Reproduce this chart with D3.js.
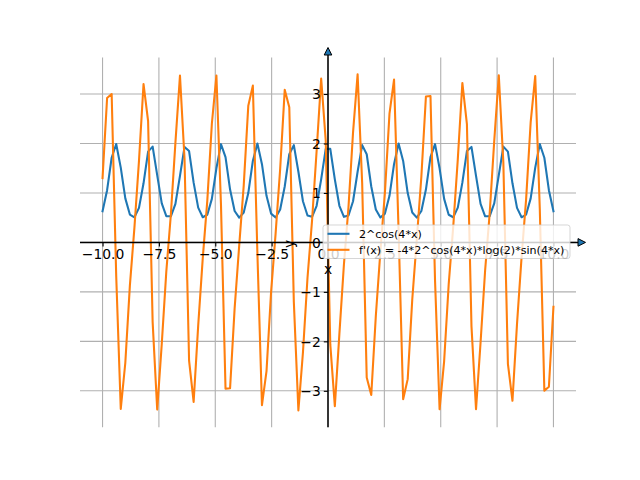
<!DOCTYPE html>
<html>
<head>
<meta charset="utf-8">
<script src="https://cdn.jsdelivr.net/npm/d3@7"></script>
<style>
  html, body { margin: 0; padding: 0; background: #fff; }
  svg { display: block; }
  text { font-family: "DejaVu Sans", sans-serif; }
</style>
</head>
<body>
<svg id="chart" width="640" height="480"></svg>
<script>
const xValues = [
  -10, -9.7980, -9.5960, -9.3939, -9.1919, -8.9899, -8.7879, -8.5859, -8.3838, -8.1818,
  -7.9798, -7.7778, -7.5758, -7.3737, -7.1717, -6.9697, -6.7677, -6.5657, -6.3636, -6.1616,
  -5.9596, -5.7576, -5.5556, -5.3535, -5.1515, -4.9495, -4.7475, -4.5455, -4.3434, -4.1414,
  -3.9394, -3.7374, -3.5354, -3.3333, -3.1313, -2.9293, -2.7273, -2.5253, -2.3232, -2.1212,
  -1.9192, -1.7172, -1.5152, -1.3131, -1.1111, -0.9091, -0.7071, -0.5051, -0.3030, -0.1010,
  0.1010, 0.3030, 0.5051, 0.7071, 0.9091, 1.1111, 1.3131, 1.5152, 1.7172, 1.9192,
  2.1212, 2.3232, 2.5253, 2.7273, 2.9293, 3.1313, 3.3333, 3.5354, 3.7374, 3.9394,
  4.1414, 4.3434, 4.5455, 4.7475, 4.9495, 5.1515, 5.3535, 5.5556, 5.7576, 5.9596,
  6.1616, 6.3636, 6.5657, 6.7677, 6.9697, 7.1717, 7.3737, 7.5758, 7.7778, 7.9798,
  8.1818, 8.3838, 8.5859, 8.7879, 8.9899, 9.1919, 9.3939, 9.5960, 9.7980, 10
];
const seriesF = [
  0.630, 1.055, 1.711, 1.989, 1.512, 0.890, 0.563, 0.508, 0.697, 1.195,
  1.835, 1.937, 1.359, 0.788, 0.530, 0.527, 0.780, 1.344, 1.930, 1.846,
  1.208, 0.704, 0.509, 0.559, 0.880, 1.498, 1.986, 1.723, 1.068, 0.635,
  0.500, 0.605, 0.997, 1.647, 1.999, 1.581, 0.942, 0.582, 0.503, 0.664,
  1.130, 1.782, 1.966, 1.428, 0.832, 0.543, 0.517, 0.740, 1.275, 1.891,
  1.891, 1.275, 0.740, 0.517, 0.543, 0.832, 1.428, 1.966, 1.782, 1.130,
  0.664, 0.503, 0.582, 0.942, 1.581, 1.999, 1.647, 0.997, 0.605, 0.500,
  0.635, 1.068, 1.723, 1.986, 1.498, 0.880, 0.559, 0.509, 0.704, 1.208,
  1.846, 1.930, 1.344, 0.780, 0.527, 0.530, 0.788, 1.359, 1.937, 1.835,
  1.195, 0.697, 0.508, 0.563, 0.890, 1.512, 1.989, 1.711, 1.055, 0.630
];
const seriesD = [
  1.301, 2.918, 3.000, -0.679, -3.365, -2.433, -0.874, 0.299, 1.648, 3.201,
  2.454, -1.612, -3.379, -2.053, -0.589, 0.564, 2.018, 3.371, 1.692, -2.391,
  -3.223, -1.682, -0.323, 0.846, 2.398, 3.374, 0.770, -2.959, -2.948, -1.333,
  -0.069, 1.153, 2.764, 3.169, -0.228, -3.290, -2.602, -1.011, 0.183, 1.488,
  3.084, 2.730, -1.203, -3.396, -2.225, -0.715, 0.442, 1.848, 3.311, 2.062,
  -2.062, -3.311, -1.848, -0.442, 0.715, 2.225, 3.396, 1.203, -2.730, -3.084,
  -1.488, -0.183, 1.011, 2.602, 3.290, 0.228, -3.169, -2.764, -1.153, 0.069,
  1.333, 2.948, 2.959, -0.770, -3.374, -2.398, -0.846, 0.323, 1.682, 3.223,
  2.391, -1.692, -3.371, -2.018, -0.564, 0.589, 2.053, 3.379, 1.612, -2.454,
  -3.201, -1.648, -0.299, 0.874, 2.433, 3.365, 0.679, -3.000, -2.918, -1.301
];
const seriesNames = ["2^cos(4*x)", "f'(x) = -4*2^cos(4*x)*log(2)*sin(4*x)"];
const seriesColors = ["#1f77b4", "#ff7f0e"];
const xTicks = [-10, -7.5, -5, -2.5, 0, 2.5, 5, 7.5, 10];
const xTickLabels = ["−10.0", "−7.5", "−5.0", "−2.5", "0.0", "2.5", "5.0", "7.5", "10.0"];
const yTicks = [-3, -2, -1, 0, 1, 2, 3];
const yTickLabels = ["−3", "−2", "−1", "0", "1", "2", "3"];

const svg = d3.select("#chart");
const L = 80, R = 576, T = 57.6, B = 427.2;

const xExt = d3.extent(xValues);
const xPad = (xExt[1] - xExt[0]) * 0.05;
const x = d3.scaleLinear().domain([xExt[0] - xPad, xExt[1] + xPad]).range([L, R]);
const yExt = d3.extent(seriesF.concat(seriesD));
const yPad = (yExt[1] - yExt[0]) * 0.05;
const y = d3.scaleLinear().domain([yExt[0] - yPad, yExt[1] + yPad]).range([B, T]);

// grid
const grid = svg.append("g");
grid.selectAll("line.vx").data(xTicks).enter().append("line")
  .attr("x1", d => x(d)).attr("x2", d => x(d)).attr("y1", T).attr("y2", B)
  .attr("stroke", "#b0b0b0").attr("stroke-width", 1.1);
grid.selectAll("line.hy").data(yTicks).enter().append("line")
  .attr("x1", L).attr("x2", R).attr("y1", d => y(d)).attr("y2", d => y(d))
  .attr("stroke", "#b0b0b0").attr("stroke-width", 1.1);

// lines
const series = [seriesF, seriesD];
series.forEach((s, k) => {
  const line = d3.line().x((d, i) => x(xValues[i])).y(d => y(d));
  svg.append("path").datum(s).attr("d", line)
    .attr("fill", "none").attr("stroke", seriesColors[k])
    .attr("stroke-width", 2.08).attr("stroke-linejoin", "round").attr("stroke-linecap", "square");
});

// axes
const x0 = x(0), y0 = y(0);
const xAxis = d3.axisBottom(x).tickValues(xTicks).tickSize(4.2).tickPadding(3.5)
  .tickFormat((d, i) => xTickLabels[i]);
const gx = svg.append("g").attr("transform", `translate(0,${y0})`).call(xAxis);
gx.select(".domain").remove();
gx.selectAll(".tick line").attr("stroke", "#000").attr("stroke-width", 1.1);
gx.selectAll(".tick text").attr("font-size", 13.9).attr("font-family", "DejaVu Sans")
  .attr("fill", "#000").attr("dy", null).attr("y", 16.2);

const yAxis = d3.axisLeft(y).tickValues(yTicks).tickSize(4.2).tickPadding(3.5)
  .tickFormat((d, i) => yTickLabels[i]);
const gy = svg.append("g").attr("transform", `translate(${x0},0)`).call(yAxis);
gy.select(".domain").remove();
gy.selectAll(".tick line").attr("stroke", "#000").attr("stroke-width", 1.1);
gy.selectAll(".tick text").attr("font-size", 13.9).attr("font-family", "DejaVu Sans")
  .attr("fill", "#000").attr("dy", null).attr("y", 4.8).attr("x", -7.2);

// spines
svg.append("line").attr("x1", L).attr("x2", 579).attr("y1", y0).attr("y2", y0)
  .attr("stroke", "#000").attr("stroke-width", 1.5);
svg.append("line").attr("x1", x0).attr("x2", x0).attr("y1", B).attr("y2", 54)
  .attr("stroke", "#000").attr("stroke-width", 1.5);
// arrow heads
svg.append("path")
  .attr("d", `M${x0},47.5 L${x0 - 3.8},55 L${x0 + 3.8},55 Z`)
  .attr("fill", "#1f77b4").attr("stroke", "#000").attr("stroke-width", 1);
svg.append("path")
  .attr("d", `M585.5,${y0} L578,${y0 - 3.8} L578,${y0 + 3.8} Z`)
  .attr("fill", "#1f77b4").attr("stroke", "#000").attr("stroke-width", 1);

// axis labels
svg.append("text").attr("x", x0).attr("y", 273.5).attr("text-anchor", "middle")
  .attr("font-size", 13.9).text("x");
svg.append("text").attr("transform", `translate(293.5,244) rotate(-90)`)
  .attr("text-anchor", "middle").attr("font-size", 13.9).text("y");

// legend
const lg = svg.append("g");
lg.append("rect").attr("x", 323).attr("y", 225).attr("width", 247).attr("height", 33.5)
  .attr("rx", 2.5).attr("fill", "#fff").attr("fill-opacity", 0.8)
  .attr("stroke", "#cccccc").attr("stroke-opacity", 0.8).attr("stroke-width", 1);
const rowsY = [233.8, 249.8];
seriesNames.forEach((name, k) => {
  lg.append("line").attr("x1", 327.5).attr("x2", 349.5).attr("y1", rowsY[k]).attr("y2", rowsY[k])
    .attr("stroke", seriesColors[k]).attr("stroke-width", 2.08);
  lg.append("text").attr("x", 359).attr("y", rowsY[k] + 4).attr("font-size", 11.1)
    .attr("fill", "#000").text(name);
});
</script>
</body>
</html>
